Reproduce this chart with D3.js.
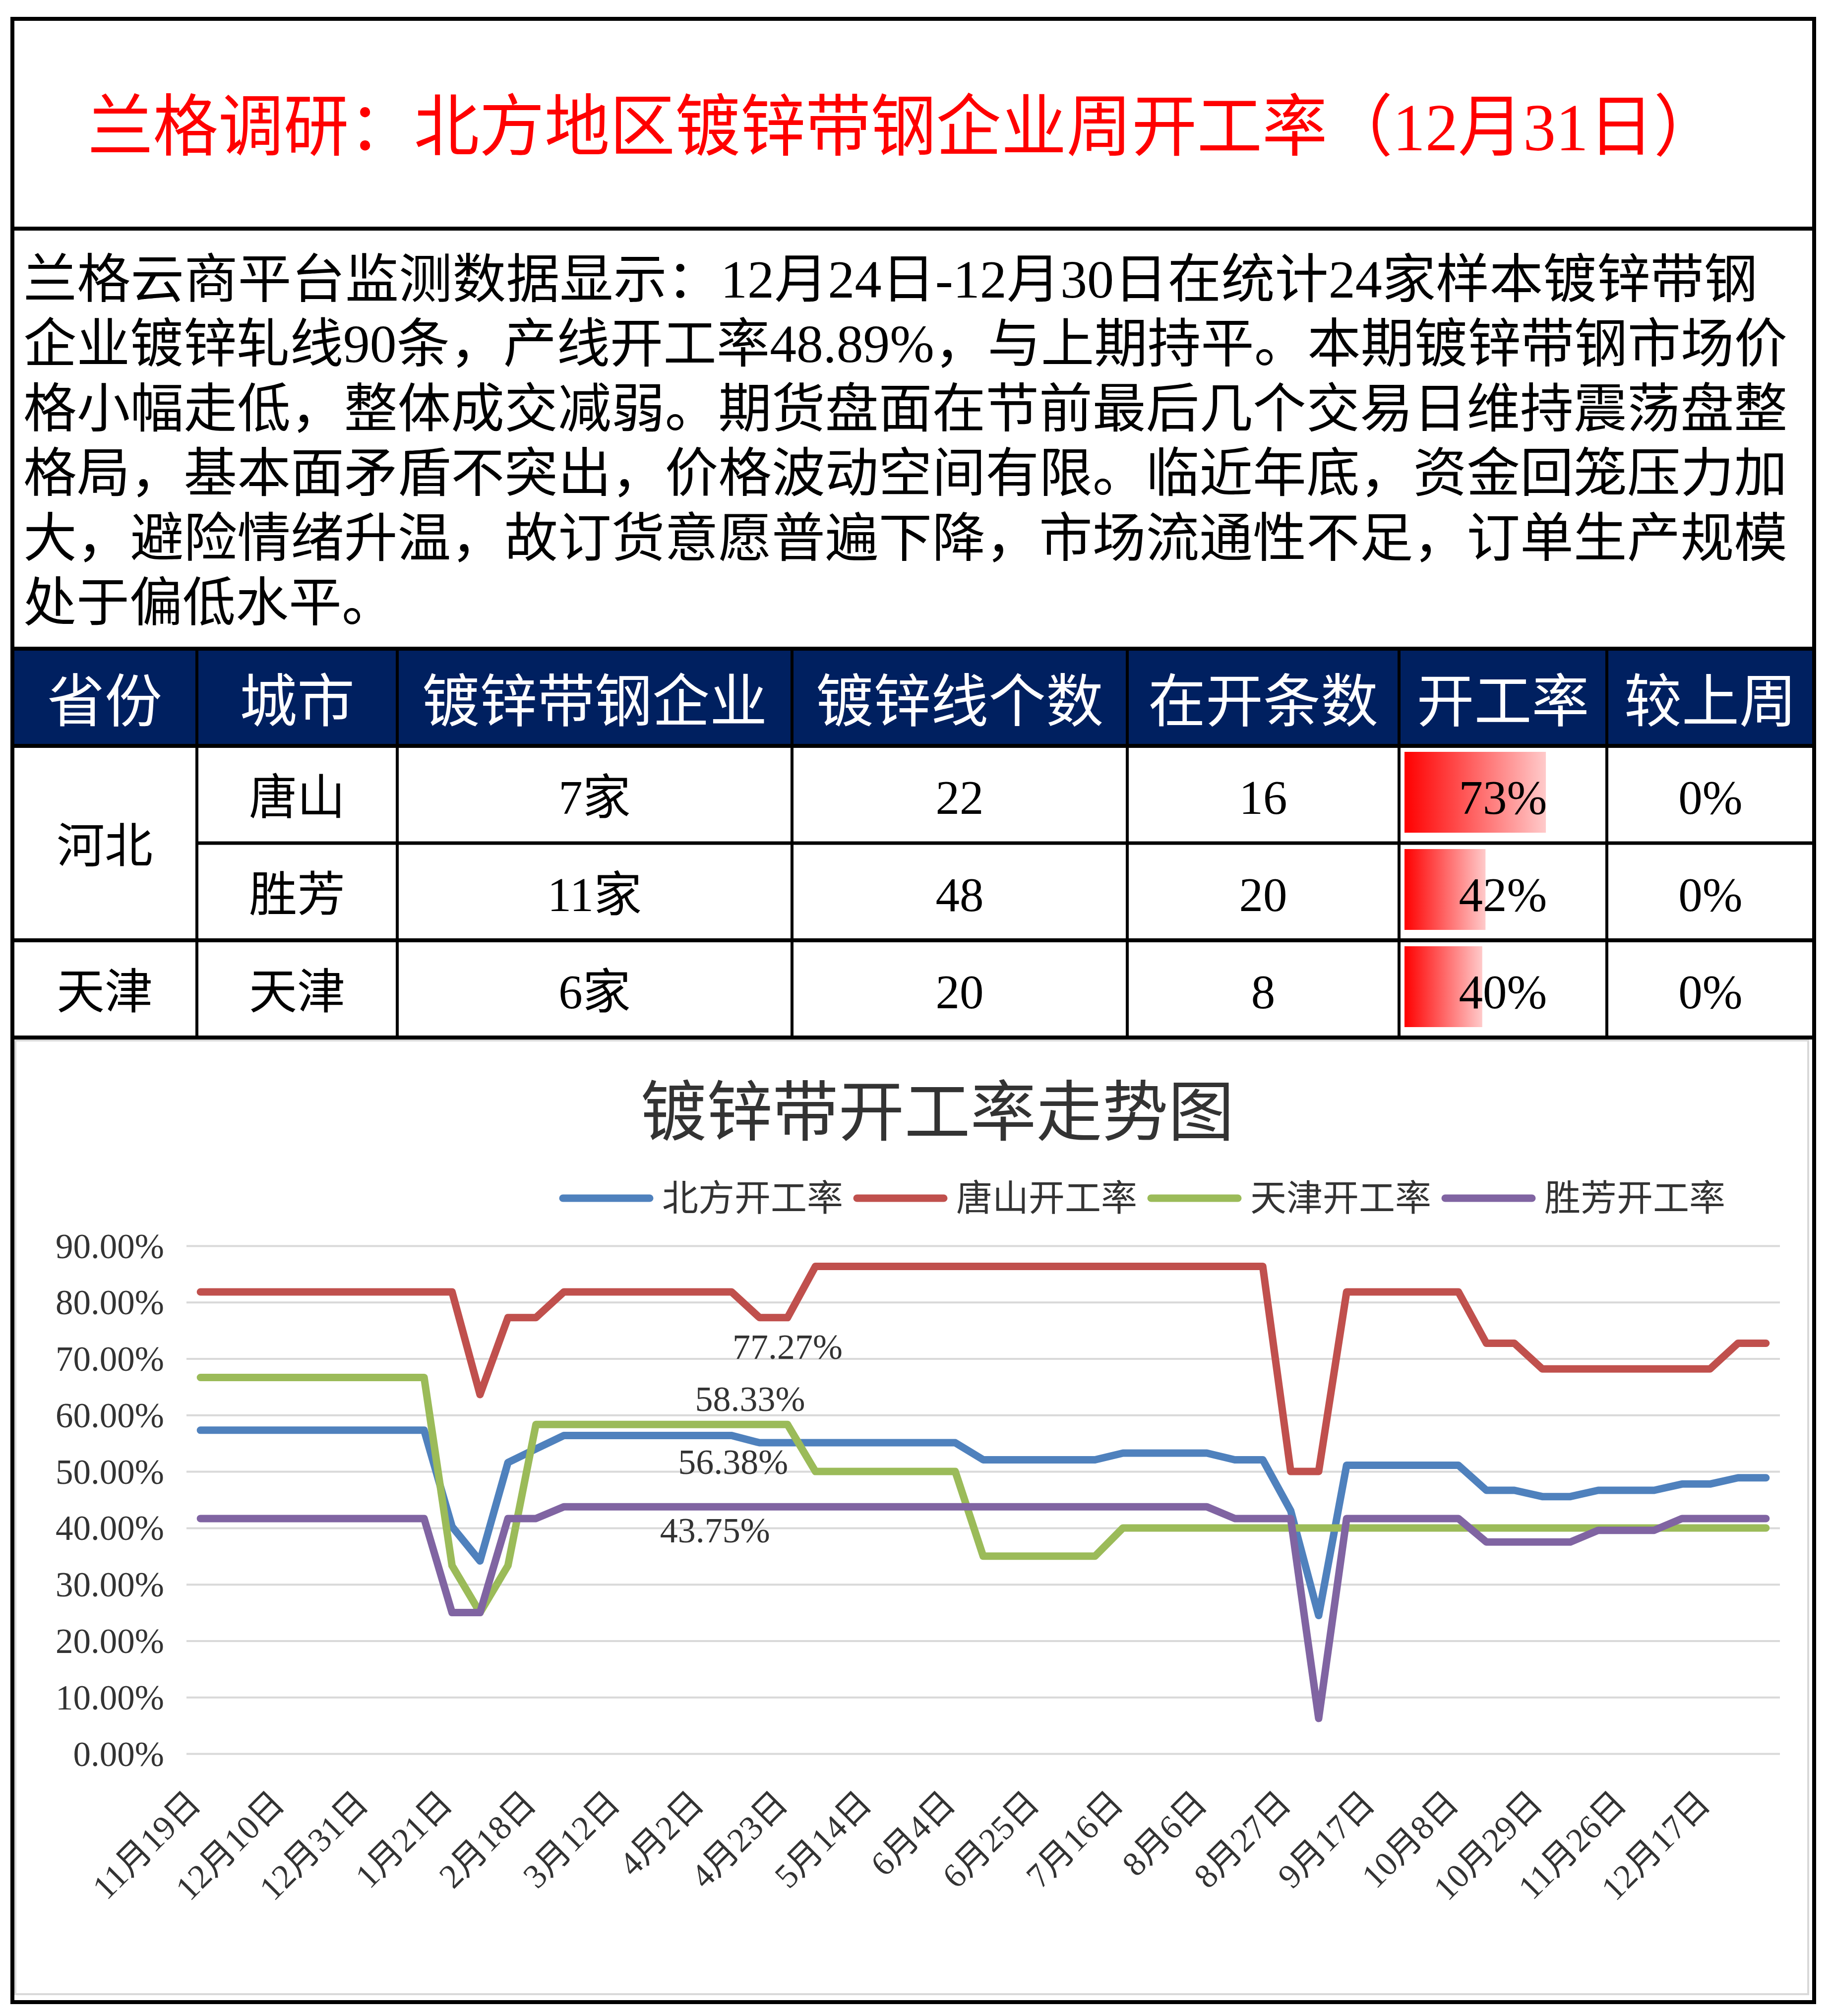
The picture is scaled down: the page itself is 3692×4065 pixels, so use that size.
<!DOCTYPE html>
<html><head><meta charset="utf-8">
<script src="https://cdn.jsdelivr.net/npm/d3@7"></script>
<style>body{margin:0;background:#fff}svg{display:block}</style>
</head><body>
<script>
// ---------------- DATA ----------------
const titleText = "兰格调研：北方地区镀锌带钢企业周开工率（12月31日）";
const paragraphLines = [
  "兰格云商平台监测数据显示：12月24日-12月30日在统计24家样本镀锌带钢",
  "企业镀锌轧线90条，产线开工率48.89%，与上期持平。本期镀锌带钢市场价",
  "格小幅走低，整体成交减弱。期货盘面在节前最后几个交易日维持震荡盘整",
  "格局，基本面矛盾不突出，价格波动空间有限。临近年底，资金回笼压力加",
  "大，避险情绪升温，故订货意愿普遍下降，市场流通性不足，订单生产规模",
  "处于偏低水平。"
];
const tableHeaders = ["省份","城市","镀锌带钢企业","镀锌线个数","在开条数","开工率","较上周"];
const provinces = ["河北","天津"];
const provinceRowSpans = [2,1];
const cities = ["唐山","胜芳","天津"];
const companies = ["7家","11家","6家"];
const lineCounts = [22,48,20];
const runningCounts = [16,20,8];
const rates = [72.73,41.67,40.00];
const weekChange = ["0%","0%","0%"];

const chartTitle = "镀锌带开工率走势图";
const categories = ["11月19日","11月26日","12月3日","12月10日","12月17日","12月24日","12月31日","1月7日","1月14日","1月21日",
  "1月28日","2月4日","2月18日","2月25日","3月4日","3月12日","3月19日","3月26日","4月2日","4月9日",
  "4月16日","4月23日","4月30日","5月7日","5月14日","5月21日","5月28日","6月4日","6月11日","6月18日",
  "6月25日","7月2日","7月9日","7月16日","7月23日","7月30日","8月6日","8月13日","8月20日","8月27日",
  "9月3日","9月10日","9月17日","9月24日","10月1日","10月8日","10月15日","10月22日","10月29日","11月5日",
  "11月19日","11月26日","12月3日","12月10日","12月17日","12月24日","12月31日"];
const seriesNames = ["北方开工率","唐山开工率","天津开工率","胜芳开工率"];
const northRate = [57.32,57.32,57.32,57.32,57.32,57.32,57.32,57.32,57.32,40.24,
  34.15,51.60,54.00,56.38,56.38,56.38,56.38,56.38,56.38,56.38,
  55.10,55.10,55.10,55.10,55.10,55.10,55.10,55.10,52.08,52.08,
  52.08,52.08,52.08,53.26,53.26,53.26,53.26,52.08,52.08,43.06,
  24.47,51.11,51.11,51.11,51.11,51.11,46.67,46.67,45.56,45.56,
  46.67,46.67,46.67,47.78,47.78,48.89,48.89];
const tangshanRate = [81.82,81.82,81.82,81.82,81.82,81.82,81.82,81.82,81.82,81.82,
  63.64,77.27,77.27,81.82,81.82,81.82,81.82,81.82,81.82,81.82,
  77.27,77.27,86.36,86.36,86.36,86.36,86.36,86.36,86.36,86.36,
  86.36,86.36,86.36,86.36,86.36,86.36,86.36,86.36,86.36,50.00,
  50.00,81.82,81.82,81.82,81.82,81.82,72.73,72.73,68.18,68.18,
  68.18,68.18,68.18,68.18,68.18,72.73,72.73];
const tianjinRate = [66.67,66.67,66.67,66.67,66.67,66.67,66.67,66.67,66.67,33.33,
  25.00,33.33,58.33,58.33,58.33,58.33,58.33,58.33,58.33,58.33,
  58.33,58.33,50.00,50.00,50.00,50.00,50.00,50.00,35.00,35.00,
  35.00,35.00,35.00,40.00,40.00,40.00,40.00,40.00,40.00,40.00,
  40.00,40.00,40.00,40.00,40.00,40.00,40.00,40.00,40.00,40.00,
  40.00,40.00,40.00,40.00,40.00,40.00,40.00];
const shengfangRate = [41.67,41.67,41.67,41.67,41.67,41.67,41.67,41.67,41.67,25.00,
  25.00,41.67,41.67,43.75,43.75,43.75,43.75,43.75,43.75,43.75,
  43.75,43.75,43.75,43.75,43.75,43.75,43.75,43.75,43.75,43.75,
  43.75,43.75,43.75,43.75,43.75,43.75,43.75,41.67,41.67,41.67,
  6.25,41.67,41.67,41.67,41.67,41.67,37.50,37.50,37.50,37.50,
  39.58,39.58,39.58,41.67,41.67,41.67,41.67];
const yTickValues = [0,10,20,30,40,50,60,70,80,90];
const labelSeries = [1,2,0,3];      // which series carries a data label
const labelIndex = [21,20,19,18];   // at which category

// ---------------- STYLE / LAYOUT ----------------
const W = 3692, H = 4065;
const FONT = "'Liberation Serif','Noto Sans CJK SC',serif";
const colors = ["#4F81BD","#C0504D","#9BBB59","#8064A2"];
const labelOffsets = [[0,59],[-19,-51],[3,53],[23,48]];
const frame = {left:25, right:3658, top:38, bottom:4037};
const colX = [25,397,801,1597,2273,2821,3240,3658];
const rowY = [1308,1504,1700,1896,2092];
const plot = {left:376, right:3589, top:2512, bottom:3536};

const svg = d3.select("body").append("svg").attr("width",W).attr("height",H)
  .style("font-family",FONT);
svg.append("rect").attr("width",W).attr("height",H).attr("fill","#fff");

// title
svg.append("text").attr("x",177).attr("y",257).attr("dominant-baseline","central")
  .attr("font-size",136).attr("fill","#ff0000")
  .attr("textLength",3289).attr("lengthAdjust","spacingAndGlyphs").text(titleText);

// paragraph
const paraEnds = [3544,3604,3604,3604,3604,null];
paragraphLines.forEach((t,i)=>{
  const tx = svg.append("text").attr("x",47).attr("y",564+130.4*i)
    .attr("dominant-baseline","central").attr("font-size",107).attr("fill","#000").text(t);
  if (paraEnds[i]) tx.attr("textLength",paraEnds[i]-47).attr("lengthAdjust","spacingAndGlyphs");
});

// table header
svg.append("rect").attr("x",colX[0]).attr("y",rowY[0]).attr("width",colX[7]-colX[0])
  .attr("height",rowY[1]-rowY[0]).attr("fill","#002060");
tableHeaders.forEach((h,i)=>{
  svg.append("text").attr("x",(colX[i]+colX[i+1])/2).attr("y",1416)
    .attr("text-anchor","middle").attr("dominant-baseline","central")
    .attr("font-size",116).attr("fill","#fff").text(h);
});

// data bars gradient
const defs = svg.append("defs");
const grad = defs.append("linearGradient").attr("id","barGrad").attr("x1","0").attr("x2","1").attr("y1","0").attr("y2","0");
grad.append("stop").attr("offset","0").attr("stop-color","#ff0000");
grad.append("stop").attr("offset","1").attr("stop-color","#ffcaca");

const barScale = d3.scaleLinear().domain([0,100]).range([0,392]);
rates.forEach((r,i)=>{
  svg.append("rect").attr("x",colX[5]+11).attr("y",rowY[i+1]+12)
    .attr("width",barScale(r)).attr("height",rowY[i+2]-rowY[i+1]-33)
    .attr("fill","url(#barGrad)");
});

// table body text
function cellText(col,row,txt,spanRows){
  const y0 = rowY[row+1], y1 = rowY[row+1+(spanRows||1)];
  svg.append("text").attr("x",(colX[col]+colX[col+1])/2).attr("y",(y0+y1)/2+6)
    .attr("text-anchor","middle").attr("dominant-baseline","central")
    .attr("font-size",97).attr("fill","#000").text(txt);
}
let r0 = 0;
provinces.forEach((p,i)=>{ cellText(0,r0,p,provinceRowSpans[i]); r0 += provinceRowSpans[i]; });
cities.forEach((c,i)=>{
  cellText(1,i,c); cellText(2,i,companies[i]); cellText(3,i,String(lineCounts[i]));
  cellText(4,i,String(runningCounts[i])); cellText(5,i,Math.round(rates[i])+"%"); cellText(6,i,weekChange[i]);
});

// chart area
svg.append("rect").attr("x",31).attr("y",2098).attr("width",3615).attr("height",1923)
  .attr("fill","#fff").attr("stroke","#d9d9d9").attr("stroke-width",4);

// grid lines
const hLine = (y,x0,x1,w)=>svg.append("line").attr("x1",x0).attr("x2",x1).attr("y1",y).attr("y2",y).attr("stroke","#000").attr("stroke-width",w);
const vLine = (x,y0,y1,w)=>svg.append("line").attr("x1",x).attr("x2",x).attr("y1",y0).attr("y2",y1).attr("stroke","#000").attr("stroke-width",w);
hLine(frame.top,frame.left-4,frame.right+4,8);
hLine(461,frame.left,frame.right,8);
hLine(rowY[0],frame.left,frame.right,8);
hLine(rowY[1],frame.left,frame.right,8);
hLine(rowY[2],colX[1],frame.right,7);
hLine(rowY[3],frame.left,frame.right,8);
hLine(rowY[4],frame.left,frame.right,8);
hLine(frame.bottom,frame.left-4,frame.right+4,8);
vLine(frame.left,frame.top,frame.bottom,8);
vLine(frame.right,frame.top,frame.bottom,8);
for (let i=1;i<7;i++) vLine(colX[i],rowY[0],rowY[4],6);

// chart title
svg.append("text").attr("x",1890).attr("y",2231).attr("text-anchor","middle")
  .attr("dominant-baseline","central").attr("font-size",133).attr("fill","#333")
  .style("font-family","'Noto Sans CJK SC',sans-serif").text(chartTitle);

// legend
seriesNames.forEach((n,i)=>{
  const x0 = 1135 + 593*i, ly = 2416;
  svg.append("line").attr("x1",x0).attr("x2",x0+175).attr("y1",ly).attr("y2",ly)
    .attr("stroke",colors[i]).attr("stroke-width",15).attr("stroke-linecap","round");
  svg.append("text").attr("x",x0+200).attr("y",ly).attr("dominant-baseline","central")
    .attr("font-size",73).attr("fill","#333").text(n);
});

// scales
const x = d3.scaleBand().domain(d3.range(categories.length)).range([plot.left,plot.right]).paddingInner(0).paddingOuter(0);
const xc = i => x(i)+x.bandwidth()/2;
const y = d3.scaleLinear().domain([0,90]).range([plot.bottom,plot.top]);

// gridlines
const grid = svg.append("g").attr("transform",`translate(${plot.left},0)`)
  .call(d3.axisLeft(y).tickValues(yTickValues).tickSize(-(plot.right-plot.left)).tickFormat(""));
grid.select(".domain").remove();
grid.selectAll("line").attr("stroke","#d9d9d9").attr("stroke-width",4);

// y axis labels
const ya = svg.append("g").attr("transform",`translate(331,0)`)
  .call(d3.axisLeft(y).tickValues(yTickValues).tickSize(0).tickPadding(0).tickFormat(d=>d.toFixed(2)+"%"));
ya.select(".domain").remove();
ya.selectAll("text").attr("font-size",71).attr("fill","#333").attr("font-family",FONT)
  .attr("dy",null).attr("dominant-baseline","central");

// x axis labels
const xa = svg.append("g").attr("transform",`translate(0,${plot.bottom})`)
  .call(d3.axisBottom(x).tickValues(d3.range(categories.length).filter(i=>i%3===0))
    .tickSize(0).tickPadding(0).tickFormat(i=>categories[i]));
xa.select(".domain").remove();
xa.selectAll("text").attr("y",0).attr("dy",null).attr("font-size",69).attr("fill","#333")
  .attr("font-family",FONT).attr("text-anchor","end").attr("dominant-baseline","central")
  .attr("transform","translate(-12,88) rotate(-45)");

// lines
const allSeries = [northRate,tangshanRate,tianjinRate,shengfangRate];
const lineGen = d3.line().x((d,i)=>xc(i)).y(d=>y(d));
allSeries.forEach((s,i)=>{
  svg.append("path").attr("d",lineGen(s)).attr("fill","none").attr("stroke",colors[i])
    .attr("stroke-width",15).attr("stroke-linejoin","round").attr("stroke-linecap","round");
});

// data labels
labelSeries.forEach((si,k)=>{
  const idx = labelIndex[k], v = allSeries[si][idx];
  svg.append("text").attr("x",xc(idx)+labelOffsets[k][0]).attr("y",y(v)+labelOffsets[k][1])
    .attr("text-anchor","middle").attr("dominant-baseline","central")
    .attr("font-size",72).attr("fill","#333").text(v.toFixed(2)+"%");
});
</script>
</body></html>
